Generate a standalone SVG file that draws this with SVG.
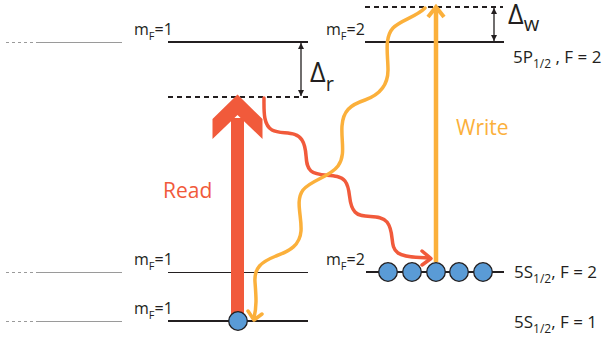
<svg xmlns="http://www.w3.org/2000/svg" width="608" height="346" viewBox="0 0 608 346">
<defs>
<style>
text{font-family:"Open Sans","DejaVu Sans",sans-serif;fill:#231f20}
.lbl{font-size:16px}
.st{font-size:17px}
.gray{stroke:#9a9a9a;stroke-width:1;fill:none}
.grayd{stroke:#9a9a9a;stroke-width:1;fill:none;stroke-dasharray:3 3}
.lvl{stroke:#231f20;stroke-width:2.2;fill:none}
.lvlthin{stroke:#231f20;stroke-width:1.2;fill:none}
.virt{stroke:#231f20;stroke-width:2;fill:none;stroke-dasharray:5 4}
.dl{stroke:#231f20;stroke-width:1.3;fill:none}
.atom{fill:#5a9bd6;stroke:#231f20;stroke-width:1.3}
.red{stroke:#f15a3b;fill:none;stroke-width:3.5;stroke-linecap:round;stroke-linejoin:round}
.org{stroke:#fbb03b;fill:none;stroke-width:3.5;stroke-linecap:round;stroke-linejoin:round}
</style>
<marker id="ah" viewBox="0 0 10 10" refX="10" refY="5" markerWidth="6" markerHeight="9" orient="auto-start-reverse" markerUnits="userSpaceOnUse">
<path d="M0,0 L10,5 L0,10 z" fill="#231f20"/>
</marker>
</defs>

<g id="left-levels">
<g id="left-excited">
<line class="grayd" x1="6" y1="42.5" x2="38" y2="42.5"/>
<line class="gray" x1="38" y1="42.5" x2="122" y2="42.5"/>
<line class="lvl" x1="168" y1="42" x2="308" y2="42"/>
<text class="lbl" x="134" y="35">m<tspan font-size="11" dy="5">F</tspan><tspan dy="-5">=1</tspan></text>
</g>
<g id="left-virtual">
<line class="virt" x1="168" y1="97" x2="308" y2="97"/>
</g>
<g id="left-mid">
<line class="grayd" x1="6" y1="272.5" x2="38" y2="272.5"/>
<line class="gray" x1="38" y1="272.5" x2="122" y2="272.5"/>
<line class="lvlthin" x1="168" y1="272.5" x2="308" y2="272.5"/>
<text class="lbl" x="134" y="265">m<tspan font-size="11" dy="5">F</tspan><tspan dy="-5">=1</tspan></text>
</g>
<g id="left-ground">
<line class="grayd" x1="6" y1="321.5" x2="38" y2="321.5"/>
<line class="gray" x1="38" y1="321.5" x2="122" y2="321.5"/>
<line class="lvl" x1="168" y1="321" x2="308" y2="321"/>
<text class="lbl" x="134" y="314">m<tspan font-size="11" dy="5">F</tspan><tspan dy="-5">=1</tspan></text>
</g>
</g>

<g id="right-levels">
<g id="right-virtual">
<line class="virt" x1="365" y1="7" x2="503" y2="7"/>
</g>
<g id="right-excited">
<line class="lvl" x1="365" y1="42" x2="504" y2="42"/>
<text class="lbl" x="326" y="35">m<tspan font-size="11" dy="5">F</tspan><tspan dy="-5">=2</tspan></text>
<text class="st" x="513" y="63">5P<tspan font-size="12" dy="5">1/2</tspan><tspan dy="-5"> , F = 2</tspan></text>
</g>
<g id="right-ground">
<line class="lvl" x1="366" y1="272" x2="504" y2="272"/>
<text class="lbl" x="326" y="265">m<tspan font-size="11" dy="5">F</tspan><tspan dy="-5">=2</tspan></text>
<text class="st" x="514" y="278">5S<tspan font-size="12" dy="5">1/2</tspan><tspan dy="-5">, F = 2</tspan></text>
</g>
<g id="right-f1">
<text class="st" x="514" y="328">5S<tspan font-size="12" dy="5">1/2</tspan><tspan dy="-5">, F = 1</tspan></text>
</g>
</g>

<g id="detunings">
<line class="dl" x1="301" y1="43" x2="301" y2="96" marker-start="url(#ah)" marker-end="url(#ah)"/>
<text x="310" y="82" font-size="27">Δ<tspan font-size="20" dy="9">r</tspan></text>
<line class="dl" x1="494" y1="8" x2="494" y2="41" marker-start="url(#ah)" marker-end="url(#ah)"/>
<text x="508" y="24" font-size="27">Δ<tspan font-size="20" dy="7">w</tspan></text>
</g>

<g id="connectors">
<g id="read-arrow">
<rect x="231" y="118" width="13" height="202" fill="#f15a3b"/>
<polygon points="237.5,94.5 262.5,119 262.5,139 237.5,115 212.5,139 212.5,119" fill="#f15a3b"/>
</g>
<g id="write-arrow">
<line x1="436" y1="262" x2="436" y2="8" stroke="#fbb03b" stroke-width="4.5"/>
<polyline points="428,17 436,7 444,17" fill="none" stroke="#fbb03b" stroke-width="4" stroke-linejoin="miter"/>
</g>
<g id="red-wave">
<path class="red" d="M264,98 C264,110 263,125 272,130 C281,135 296,130 302,140 C309,151 303,164 311,171 C319,178 338,172 345,181 C352,190 347,204 355,212 C362,220 380,213 387,222 C395,232 389,247 398,253 C405,258 418,257 428,258"/>
<polyline class="red" points="422,251 431,258.5 422,265"/>
</g>
<g id="orange-wave">
<path class="org" d="M425,8 C416,17 401,20 393,28 C384,38 388,55 388,70 C388,86 379,95 365,100 C350,105 343,111 342,126 C341,141 346,155 338,166 C330,177 311,180 303,190 C295,201 302,216 301,231 C300,245 290,251 276,256 C261,262 254,268 255,282 C256,296 257,305 254,318"/>
<polyline class="org" points="248,311 254,320 262,314"/>
</g>
</g>

<g id="atoms">
<circle class="atom" cx="238" cy="321" r="9.3"/>
<circle class="atom" cx="388" cy="272" r="9.3"/>
<circle class="atom" cx="412" cy="272" r="9.3"/>
<circle class="atom" cx="436" cy="272" r="9.3"/>
<circle class="atom" cx="459" cy="272" r="9.3"/>
<circle class="atom" cx="483" cy="272" r="9.3"/>
</g>

<g id="labels">
<text x="163" y="198" font-size="21" style="fill:#f15a3b">Read</text>
<text x="456" y="135" font-size="21" style="fill:#fbb03b">Write</text>
</g>
</svg>
